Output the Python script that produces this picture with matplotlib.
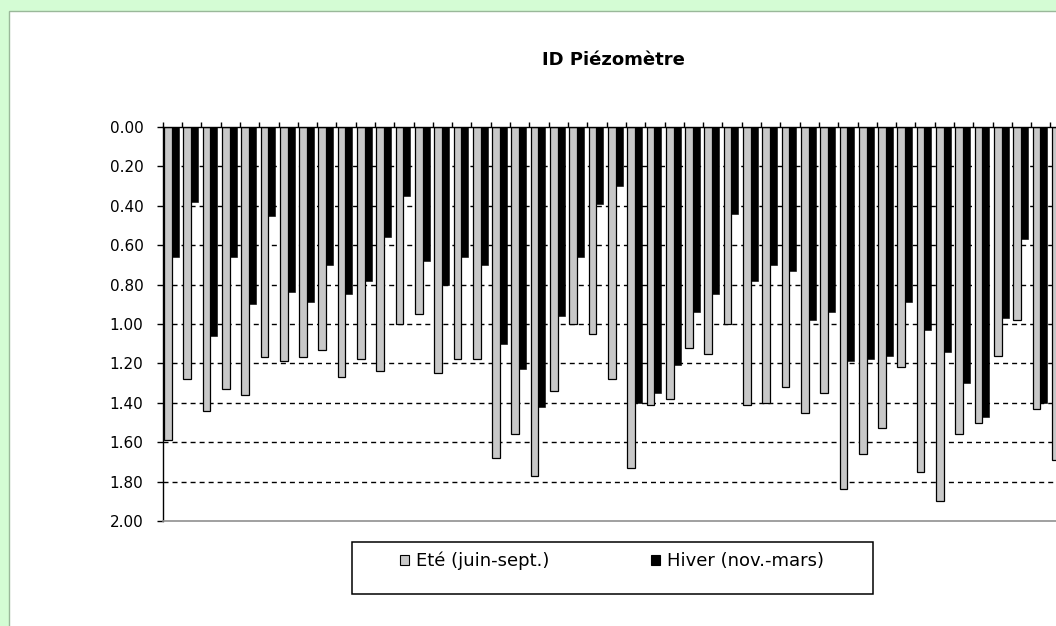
import matplotlib
matplotlib.use('Agg')
import matplotlib.pyplot as plt
from matplotlib.patches import Rectangle, Patch
from matplotlib.ticker import FormatStrFormatter
import numpy as np

# ---- data (depth values) ----
series_labels = ['Eté (juin-sept.)', 'Hiver (nov.-mars)']
ete = [1.59, 1.28, 1.44, 1.33, 1.36, 1.17, 1.19, 1.17, 1.13, 1.27, 1.18, 1.24,
       1.00, 0.95, 1.25, 1.18, 1.18, 1.68, 1.56, 1.77, 1.34, 1.00, 1.05,
       1.28, 1.73, 1.41, 1.38, 1.12, 1.15, 1.00, 1.41, 1.40, 1.32, 1.45,
       1.35, 1.84, 1.66, 1.53, 1.22, 1.75, 1.90, 1.56, 1.50, 1.16, 0.98, 1.43, 1.69]
hiver = [0.66, 0.38, 1.06, 0.66, 0.90, 0.45, 0.84, 0.89, 0.70, 0.85, 0.78, 0.56,
         0.35, 0.68, 0.80, 0.66, 0.70, 1.10, 1.23, 1.42, 0.96, 0.66, 0.39,
         0.30, 1.40, 1.35, 1.21, 0.94, 0.85, 0.44, 0.78, 0.70, 0.73, 0.98,
         0.94, 1.19, 1.18, 1.16, 0.89, 1.03, 1.14, 1.30, 1.47, 0.97, 0.57, 1.40]
y_ticks = [0.0, 0.2, 0.4, 0.6, 0.8, 1.0, 1.2, 1.4, 1.6, 1.8, 2.0]
grid_levels = [0.2, 0.4, 0.6, 0.8, 1.0, 1.2, 1.4, 1.6, 1.8]
title = 'ID Piézomètre'

plt.rcParams['font.family'] = ['DejaVu Sans']
plt.rcParams['lines.scale_dashes'] = False

W, H = 1056, 626
fig = plt.figure(figsize=(W / 100, H / 100), dpi=100)
fig.patch.set_facecolor('#D4FCD4')

# white chart panel with thin border
fig.add_artist(Rectangle((8.5 / W, -0.1), 1.2, 1 - 11 / H + 0.1,
                         transform=fig.transFigure, facecolor='white',
                         edgecolor='#9AB89A', lw=1.0, zorder=-1))

cw = 19.3
ncat_axis = 48
ax = fig.add_axes([162.7 / W, 1 - 521 / H, ncat_axis * cw / W, (521 - 127) / H])
ax.set_facecolor('none')

xe = np.arange(len(ete))
xh = np.arange(len(hiver))
ax.bar(xe + 0.07, ete, width=0.40, align='edge', color='#C8C8C8',
       edgecolor='black', lw=0.9, zorder=2)
ax.bar(xh + 0.47, hiver, width=0.36, align='edge', color='black',
       edgecolor='black', lw=0.4, zorder=2)

for v in grid_levels:
    ax.axhline(v, color='black', lw=1.0, ls=(0, (3.6, 2.9)), zorder=1)

ax.set_ylim(2, 0)
ax.set_xlim(0, ncat_axis)
ax.set_yticks(y_ticks)
ax.yaxis.set_major_formatter(FormatStrFormatter('%.2f'))
ax.xaxis.tick_top()
ax.set_xticks(np.arange(0, ncat_axis + 1))
ax.tick_params(axis='x', top=True, bottom=False, labeltop=False,
               labelbottom=False, direction='out', length=3.6, width=1.0)
ax.tick_params(axis='y', direction='out', length=4.3, width=1.0, pad=9.5,
               labelsize=11, colors='black')

ax.spines['right'].set_visible(False)
ax.spines['left'].set_color('black')
ax.spines['left'].set_linewidth(1.0)
ax.spines['top'].set_color('black')
ax.spines['top'].set_linewidth(1.0)
ax.spines['bottom'].set_color('#909090')
ax.spines['bottom'].set_linewidth(1.2)

fig.text(613 / W, 1 - 60 / H, title, ha='center', va='center',
         fontsize=13, fontweight='bold')

# legend
fig.add_artist(Rectangle((352 / W, 1 - 594 / H), (873 - 352) / W, 52 / H,
                         transform=fig.transFigure, facecolor='white',
                         edgecolor='black', lw=1.1, zorder=4))
handles = [Patch(facecolor='#C8C8C8', edgecolor='black', lw=0.8),
           Patch(facecolor='black', edgecolor='black', lw=0.8)]
leg = fig.legend(handles, series_labels, loc='center',
                 bbox_to_anchor=(612 / W, 1 - 561 / H), ncol=2, frameon=False,
                 fontsize=13, handlelength=0.5, handleheight=0.5,
                 handletextpad=0.4, columnspacing=5.6)
leg.set_zorder(5)

fig.savefig('out.png', dpi=100)
